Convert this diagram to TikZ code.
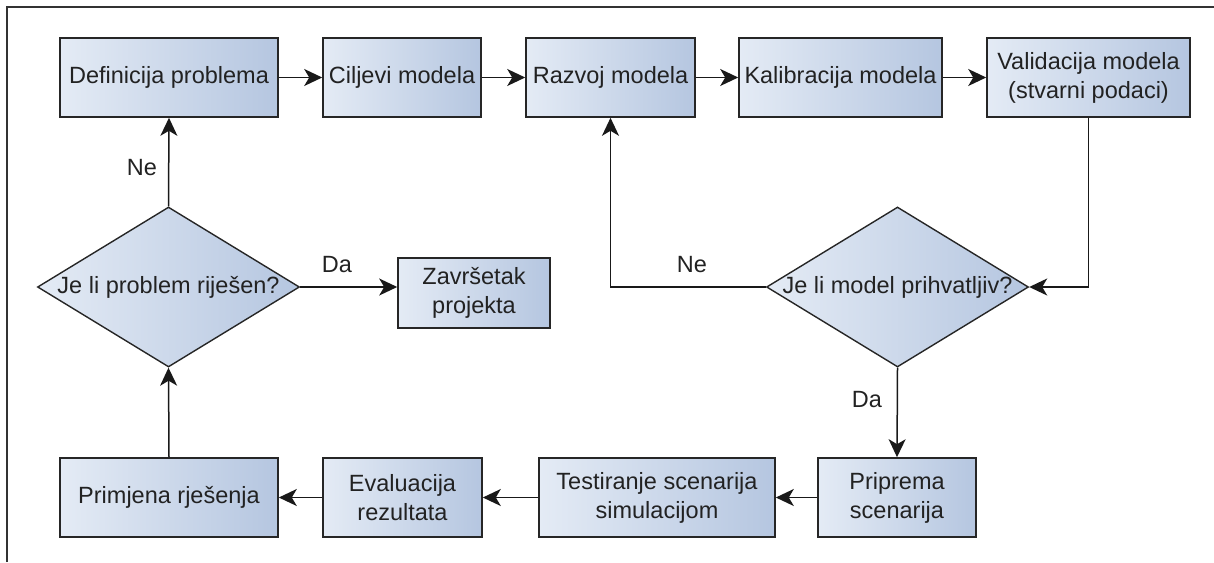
\documentclass[tikz,border=0pt]{standalone}
\usepackage{fontspec}
\setmainfont{Liberation Sans}
\usetikzlibrary{arrows.meta,shapes.geometric}
\definecolor{gradL}{HTML}{E4EBF5}
\definecolor{gradR}{HTML}{B5C6E0}
\definecolor{txt}{HTML}{222222}
\definecolor{frame}{HTML}{333333}
\tikzset{
  every node/.style={text=txt,font=\fontsize{23.5}{29}\selectfont},
  stepbox/.style={draw=black!85,line width=1.6pt,left color=gradL,right color=gradR,
    inner sep=0pt,align=center,minimum height=79pt},
  decision/.style={diamond,draw=black!85,line width=1.4pt,left color=gradL,right color=gradR,
    inner sep=0pt,minimum width=262pt,minimum height=160pt},
  conn/.style={line width=1.5pt,black!90,-{Stealth[length=18pt,width=17pt,inset=5pt]}},
  lbl/.style={inner sep=0pt}
}
\begin{document}
\begin{tikzpicture}[x=1pt,y=-1pt]
\useasboundingbox (0,0) rectangle (1214,562);
\draw[frame,line width=1.5pt] (7,562) -- (7,7) -- (1214,7);

% top row
\node[stepbox,minimum width=218pt] (def) at (169,77.5) {Definicija problema};
\node[stepbox,minimum width=158pt] (cilj) at (402,77.5) {Ciljevi modela};
\node[stepbox,minimum width=169pt] (razvoj) at (610.5,77.5) {Razvoj modela};
\node[stepbox,minimum width=203pt] (kalib) at (840.5,77.5) {Kalibracija modela};
\node[stepbox,minimum width=203pt] (valid) at (1088.5,77.5) {Validacija modela\\(stvarni podaci)};

% decisions
\node[decision,label={center:Je li model prihvatljiv?}] (d2) at (897.5,287) {};
\node[decision,label={center:Je li problem riješen?}] (d1) at (168.5,287) {};
\node[stepbox,minimum width=152pt,minimum height=70pt] (zavrs) at (474,293) {Završetak\\projekta};

% bottom row
\node[stepbox,minimum width=218pt] (prim) at (169,497.5) {Primjena rješenja};
\node[stepbox,minimum width=159pt] (eval) at (402.5,497.5) {Evaluacija\\rezultata};
\node[stepbox,minimum width=236pt] (test) at (657,497.5) {Testiranje scenarija\\simulacijom};
\node[stepbox,minimum width=158pt] (prip) at (897,497.5) {Priprema\\scenarija};

% labels
\node[lbl] (ne1) at (142,168) {Ne};
\node[lbl] (ne2) at (692,265) {Ne};
\node[lbl] (da1) at (337,265) {Da};
\node[lbl] (da2) at (867,400) {Da};

% connectors
\draw[conn] (def) -- (cilj);
\draw[conn] (cilj) -- (razvoj);
\draw[conn] (razvoj) -- (kalib);
\draw[conn] (kalib) -- (valid);
\draw[conn] (valid.south) |- (d2.east);
\draw[conn] (d2.west) -| (razvoj.south);
\draw[conn] (d2.south) -- (prip.north);
\draw[conn] (prip) -- (test);
\draw[conn] (test) -- (eval);
\draw[conn] (eval) -- (prim);
\draw[conn] (prim.north) -- (d1.south);
\draw[conn] (d1.north) -- (def.south);
\draw[conn] (d1.east) -- (d1.east -| zavrs.west);
\end{tikzpicture}
\end{document}
